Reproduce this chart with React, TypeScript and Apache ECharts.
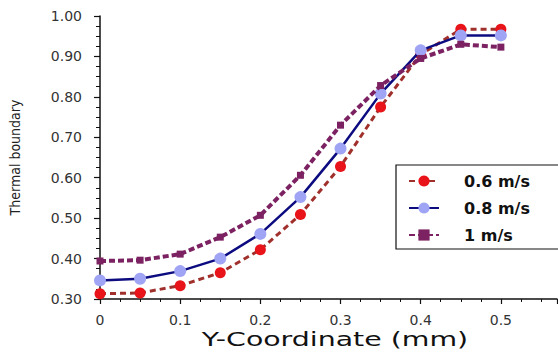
import React, { useEffect, useRef } from "react";
import * as echarts from "echarts";

const xValues = [0, 0.05, 0.1, 0.15, 0.2, 0.25, 0.3, 0.35, 0.4, 0.45, 0.5];
const seriesNames = ["0.6 m/s", "0.8 m/s", "1 m/s"];
const v06 = [0.313, 0.315, 0.333, 0.365, 0.422, 0.509, 0.628, 0.775, 0.905, 0.967, 0.967];
const v08 = [0.346, 0.35, 0.369, 0.4, 0.461, 0.552, 0.672, 0.808, 0.915, 0.952, 0.952];
const v10 = [0.394, 0.396, 0.411, 0.453, 0.507, 0.606, 0.73, 0.828, 0.895, 0.93, 0.923];
const xAxisTitle = "Y-Coordinate (mm)";
const yAxisTitle = "Thermal boundary";

const pair = (ys: number[]) => xValues.map((x, i) => [x, ys[i]]);

export default function App() {
  const ref = useRef<HTMLDivElement>(null);
  useEffect(() => {
    if (!ref.current) return;
    const chart = echarts.init(ref.current, undefined, { renderer: "svg" });
    const labelFont = "'DejaVu Sans', Arial, sans-serif";
    chart.setOption({
      animation: false,
      backgroundColor: "#ffffff",
      grid: { left: 98, right: 1, top: 16, bottom: 53, containLabel: false },
      xAxis: {
        type: "value",
        min: 0,
        max: 0.57,
        interval: 0.1,
        axisLine: { show: true, onZero: false, lineStyle: { color: "#111", width: 1.5 } },
        axisTick: { show: true, length: 5, lineStyle: { color: "#111", width: 1.2 } },
        minorTick: { show: true, splitNumber: 4, length: 3, lineStyle: { color: "#111", width: 1 } },
        splitLine: { show: false },
        axisLabel: {
          margin: 14,
          fontSize: 14,
          fontFamily: labelFont,
          color: "#333",
          showMaxLabel: false,
          formatter: (v: number) => (Math.abs(v) < 1e-9 ? "0" : v.toFixed(1)),
        },
      },
      yAxis: {
        type: "value",
        min: 0.3,
        max: 1.0,
        interval: 0.1,
        name: yAxisTitle,
        nameLocation: "middle",
        nameGap: 78,
        nameTextStyle: {
          fontSize: 14,
          fontFamily: "'Liberation Sans Narrow', 'DejaVu Sans Condensed', Arial, sans-serif",
          color: "#222",
        },
        axisLine: { show: true, onZero: false, lineStyle: { color: "#111", width: 1.5 } },
        axisTick: { show: true, length: 6, lineStyle: { color: "#111", width: 1.2 } },
        minorTick: { show: true, splitNumber: 4, length: 4, lineStyle: { color: "#111", width: 1 } },
        splitLine: { show: false },
        axisLabel: {
          margin: 18,
          fontSize: 14,
          fontFamily: labelFont,
          color: "#333",
          formatter: (v: number) => v.toFixed(2),
        },
      },
      legend: {
        orient: "vertical",
        left: 396,
        top: 165,
        padding: [8, 40, 6, 12],
        itemGap: 11,
        itemWidth: 30,
        itemHeight: 14,
        backgroundColor: "#fff",
        borderColor: "#111",
        borderWidth: 1.2,
        borderRadius: 0,
        textStyle: {
          fontSize: 16,
          fontWeight: "bold",
          fontFamily: labelFont,
          color: "#111",
          padding: [0, 0, 0, 20],
        },
        data: seriesNames,
      },
      graphic: [
        {
          type: "text",
          x: 335,
          y: 339,
          scaleX: 1.42,
          style: {
            text: xAxisTitle,
            fontSize: 20,
            fontFamily: labelFont,
            fill: "#111",
            textAlign: "center",
            textVerticalAlign: "middle",
          },
        },
      ],
      series: [
        {
          name: seriesNames[0],
          type: "line",
          data: pair(v06),
          symbol: "circle",
          symbolSize: 11,
          z: 2,
          lineStyle: { color: "#a0302c", width: 3, type: [6, 4] },
          itemStyle: { color: "#e8141a" },
        },
        {
          name: seriesNames[1],
          type: "line",
          data: pair(v08),
          symbol: "circle",
          symbolSize: 12,
          z: 3,
          lineStyle: { color: "#0c0c80", width: 2.5, type: "solid" },
          itemStyle: { color: "#a0a4f4" },
        },
        {
          name: seriesNames[2],
          type: "line",
          data: pair(v10),
          symbol: "rect",
          symbolSize: 7,
          z: 4,
          lineStyle: { color: "#7c2262", width: 4, type: [6, 3] },
          itemStyle: { color: "#7c2262" },
        },
      ],
    });
    return () => chart.dispose();
  }, []);
  return (
    <div
      ref={ref}
      style={{ position: "fixed", left: 0, top: 0, width: 558, height: 352 }}
    />
  );
}
